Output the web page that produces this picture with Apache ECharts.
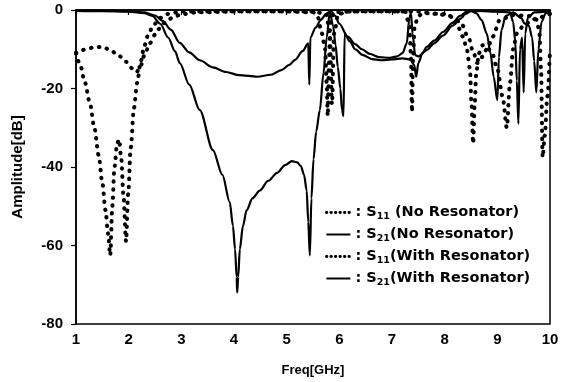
<!DOCTYPE html>
<html>
<head>
<meta charset="utf-8">
<script src="https://cdn.jsdelivr.net/npm/echarts@6/dist/echarts.min.js"></script>
<style>
  html, body { margin: 0; padding: 0; background: #fff; }
  #chart { width: 566px; height: 382px; }
</style>
</head>
<body>
<div id="chart"></div>
<script>
// [freq GHz, dB]
const s11NoRes = [
  [1.0,-11],[1.1,-10.3],[1.2,-9.9],[1.35,-9.5],[1.5,-9.4],[1.65,-10.2],[1.8,-11.5],[1.95,-13.2],
  [2.08,-15],[2.15,-15.8],[2.22,-14.5],[2.3,-11.5],[2.4,-8.5],[2.5,-6.3],[2.6,-4.5],[2.7,-3],
  [2.85,-1.8],[3.0,-1.1],[3.3,-0.6],[4.0,-0.4],[5.0,-0.4],[5.5,-0.6],[5.58,-1.3],[5.67,-6],
  [5.73,-10],[5.76,-18.6],[5.78,-27],[5.8,-14],[5.83,-3],[5.9,-0.5],[6.5,-0.3],[7.5,-0.4],
  [7.85,-1],[8.1,-1.5],[8.25,-4.3],[8.35,-6.8],[8.42,-10],[8.48,-15],[8.51,-24],[8.54,-34],
  [8.57,-24],[8.6,-16],[8.65,-11],[8.72,-9],[8.8,-9.4],[8.9,-11],[9.0,-15],[9.1,-22],[9.18,-30],
  [9.24,-18.6],[9.3,-10],[9.37,-6],[9.5,-4],[9.62,-3],[9.75,-2],[10,-1]
];
const s21NoRes = [
  [1.0,-0.1],[1.5,-0.2],[2.0,-0.3],[2.3,-0.6],[2.5,-1.4],[2.65,-2.8],[2.8,-5],[2.97,-8.4],
  [3.15,-10.8],[3.35,-12.8],[3.6,-14.6],[3.85,-15.8],[4.1,-16.6],[4.44,-17],[4.7,-16.5],
  [4.9,-15.3],[5.05,-14],[5.16,-12.7],[5.3,-10.5],[5.41,-8.5],[5.43,-19],[5.45,-7],[5.55,-4.5],
  [5.65,-2.5],[5.75,-1],[5.84,-0.2],[5.92,-1.5],[6.0,-3.5],[6.16,-6.8],[6.3,-8.7],[6.43,-10],
  [6.58,-11.2],[6.75,-12],[6.96,-12.2],[7.1,-11.8],[7.2,-11],[7.28,-8.5],[7.33,-2],[7.36,-0.8],
  [7.39,-6],[7.44,-11.5],[7.5,-11.8],[7.66,-10.2],[7.8,-8.5],[7.97,-6.5],[8.15,-4],[8.29,-2.3],
  [8.4,-1],[8.5,-0.2],[8.6,-0.8],[8.7,-2.5],[8.8,-6],[8.87,-11],[8.93,-17],[9.0,-23],[9.03,-12],
  [9.08,-5],[9.16,-1.5],[9.3,-0.6],[9.45,-2],[9.52,-3.5],[9.6,-4],[9.66,-7],[9.7,-13],[9.74,-21],
  [9.78,-10],[9.84,-3],[9.92,-0.8],[10,-0.4]
];
const s11WithRes = [
  [1.0,-11],[1.08,-14],[1.17,-18.5],[1.26,-23.5],[1.35,-30],[1.43,-37],[1.5,-44],[1.56,-51],
  [1.61,-57],[1.65,-62.5],[1.69,-50],[1.73,-40],[1.78,-34],[1.82,-33],[1.86,-38],[1.9,-47],
  [1.95,-59],[1.99,-47],[2.04,-35],[2.1,-25],[2.16,-18.6],[2.23,-13],[2.3,-9],[2.38,-6],
  [2.47,-3.8],[2.6,-2],[2.75,-1],[3.0,-0.4],[4.0,-0.3],[5.0,-0.3],[5.5,-0.4],[5.75,-1],
  [5.82,-6],[5.86,-24],[5.9,-6],[5.98,-1],[6.2,-0.4],[7.25,-0.4],[7.33,-4],[7.36,-12],
  [7.38,-26],[7.4,-12],[7.43,-4],[7.5,-1.5],[7.6,-0.8],[8.0,-1],[8.3,-3],[8.45,-7],[8.55,-11],
  [8.62,-13.5],[8.67,-13],[8.76,-10.6],[8.82,-9.4],[8.91,-6.8],[9.05,-2.5],[9.3,-1.3],[9.6,-1.5],
  [9.75,-2.5],[9.8,-6],[9.83,-15],[9.86,-37.5],[9.9,-32],[9.95,-22],[10,-10]
];
const s21WithRes = [
  [1.0,-0.2],[1.5,-0.3],[2.0,-0.4],[2.3,-0.8],[2.45,-1.5],[2.6,-3.5],[2.75,-7],[2.88,-10.5],
  [2.97,-13.5],[3.15,-19],[3.35,-25.5],[3.6,-35.7],[3.78,-42],[3.92,-49],[3.98,-55],[4.02,-61],
  [4.05,-68],[4.06,-72],[4.08,-68],[4.11,-61],[4.17,-55],[4.24,-51],[4.35,-48],[4.49,-46],
  [4.65,-43.5],[4.82,-41.5],[4.97,-39.5],[5.1,-38.5],[5.2,-38.8],[5.27,-39.8],[5.33,-42],
  [5.38,-46],[5.41,-54],[5.44,-62.5],[5.47,-48],[5.51,-38],[5.56,-31],[5.63,-25.5],[5.7,-16],
  [5.76,-7],[5.82,-0.5],[5.88,-4],[5.93,-9],[5.97,-14.5],[6.02,-20],[6.05,-25.5],[6.08,-27],
  [6.1,-6],[6.2,-8],[6.3,-10],[6.45,-11.5],[6.62,-12.5],[6.8,-12.8],[7.0,-12.6],[7.2,-12.3],
  [7.35,-12.6],[7.42,-14],[7.46,-17],[7.5,-13.5],[7.58,-11],[7.66,-9.4],[7.8,-7.8],[7.97,-5.6],
  [8.15,-3.3],[8.29,-1.5],[8.42,-0.4],[8.6,-0.2],[8.9,-0.4],[9.1,-0.5],[9.24,-0.6],[9.3,-3],
  [9.34,-8],[9.37,-18],[9.4,-29],[9.43,-10],[9.47,-7],[9.5,-21],[9.53,-6],[9.58,-2],[9.7,-0.6],
  [10,-0.3]
];

const seriesNames = ['S11 (No Resonator)', 'S21(No Resonator)', 'S11(With Resonator)', 'S21(With Resonator)'];
const legendLabels = {
  'S11 (No Resonator)': '{t|: S}{s|11}{t| (No Resonator)}',
  'S21(No Resonator)': '{t|: S}{s|21}{t|(No Resonator)}',
  'S11(With Resonator)': '{t|: S}{s|11}{t|(With Resonator)}',
  'S21(With Resonator)': '{t|: S}{s|21}{t|(With Resonator)}'
};

const font = 'Liberation Sans';
const legendFont = 'DejaVu Sans';
const dotted = { color: '#000', width: 4, type: [0.5, 7.5], cap: 'round' };
const solid = { color: '#000', width: 2.2 };
const legendDots = { width: 2.8, type: [0.5, 4], cap: 'round' };

const chart = echarts.init(document.getElementById('chart'));

function mk(name, data, style) {
  return {
    name: name,
    type: 'line',
    data: data,
    showSymbol: false,
    symbol: 'none',
    smooth: 0.3,
    smoothMonotone: 'x',
    clip: false,
    lineStyle: style,
    itemStyle: { color: '#000' }
  };
}

chart.setOption({
  animation: false,
  textStyle: { fontFamily: font, fontWeight: 'bold', color: '#000' },
  grid: {
    left: 76, right: 16, top: 10, bottom: 58,
    show: true, borderColor: '#000', borderWidth: 1.5
  },
  legend: {
    orient: 'vertical',
    left: 325,
    top: 205,
    padding: 0,
    itemWidth: 24,
    itemHeight: 14,
    itemGap: 5,
    itemStyle: { opacity: 0 },
    data: [
      { name: seriesNames[0], lineStyle: legendDots },
      { name: seriesNames[1] },
      { name: seriesNames[2], lineStyle: legendDots },
      { name: seriesNames[3] }
    ],
    formatter: function (n) { return legendLabels[n]; },
    textStyle: {
      rich: {
        t: { fontFamily: legendFont, fontWeight: 'bold', fontSize: 14.5, color: '#000' },
        s: { fontFamily: legendFont, fontWeight: 'bold', fontSize: 9.5, color: '#000', padding: [9, 0, 0, 0] }
      }
    }
  },
  xAxis: {
    type: 'value',
    min: 1, max: 10, interval: 1,
    name: 'Freq[GHz]',
    nameLocation: 'middle',
    nameGap: 40,
    nameTextStyle: { fontFamily: font, fontWeight: 'bold', fontSize: 13, color: '#000' },
    axisLine: { lineStyle: { color: '#000', width: 1.5 } },
    axisTick: { show: true, length: 5, lineStyle: { color: '#000', width: 1.2 } },
    axisLabel: { fontFamily: font, fontWeight: 'bold', fontSize: 15, color: '#000', margin: 8 },
    splitLine: { show: false }
  },
  yAxis: {
    type: 'value',
    min: -80, max: 0, interval: 20,
    name: 'Amplitude[dB]',
    nameLocation: 'middle',
    nameGap: 51,
    nameTextStyle: { fontFamily: font, fontWeight: 'bold', fontSize: 15, color: '#000' },
    axisLine: { show: true, lineStyle: { color: '#000', width: 1.5 } },
    axisTick: { show: true, length: 5, lineStyle: { color: '#000', width: 1.2 } },
    axisLabel: { fontFamily: font, fontWeight: 'bold', fontSize: 15, color: '#000', margin: 13 },
    splitLine: { show: false }
  },
  series: [
    mk(seriesNames[0], s11NoRes, dotted),
    mk(seriesNames[1], s21NoRes, solid),
    mk(seriesNames[2], s11WithRes, dotted),
    mk(seriesNames[3], s21WithRes, solid)
  ]
});
</script>
</body>
</html>
